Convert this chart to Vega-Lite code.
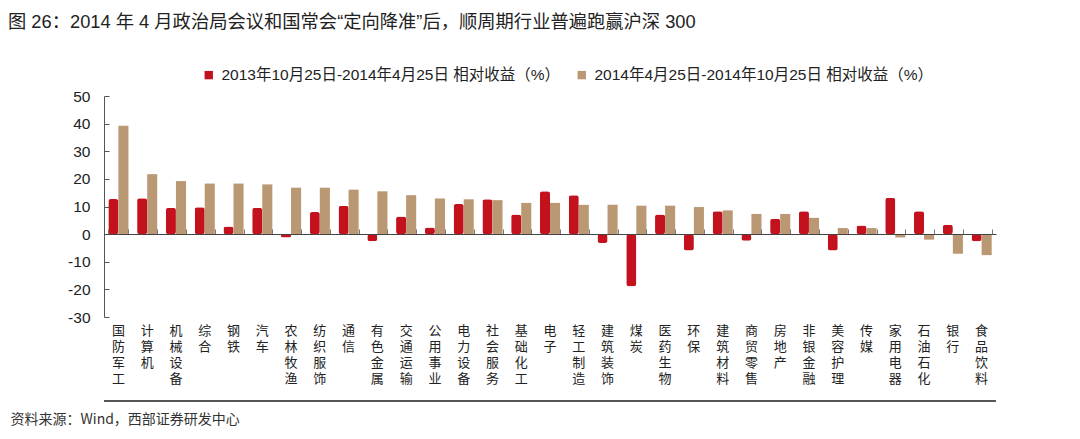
{
  "$schema": "https://vega.github.io/schema/vega-lite/v6.json",
  "autosize": "none",
  "width": 892,
  "height": 221,
  "padding": {"left": 104, "top": 96, "right": 84, "bottom": 122},
  "background": "white",
  "title": {
    "text": "图 26：2014 年 4 月政治局会议和国常会“定向降准”后，顺周期行业普遍跑赢沪深 300",
    "anchor": "start",
    "frame": "group",
    "dx": -96,
    "offset": 35,
    "fontSize": 18.3,
    "fontWeight": "normal",
    "font": "Liberation Sans, Noto Sans CJK SC",
    "color": "#222222"
  },
  "config": {
    "view": {"stroke": null},
    "axis": {"grid": false},
    "axisY": {
      "values": [-30, -20, -10, 0, 10, 20, 30, 40, 50],
      "labelExpr": "toString(datum.value)",
      "labelOverlap": false,
      "title": null,
      "domainColor": "#555555", "tickColor": "#555555",
      "tickSize": -5, "labelPadding": 19,
      "labelFont": "Liberation Sans", "labelFontSize": 15.5, "labelColor": "#222222"
    }
  },
  "data": {
    "values": [
      {"industry": "国防军工", "r1": 12.7, "r2": 39.2},
      {"industry": "计算机", "r1": 13.0, "r2": 21.7},
      {"industry": "机械设备", "r1": 9.5, "r2": 19.2},
      {"industry": "综合", "r1": 9.7, "r2": 18.3},
      {"industry": "钢铁", "r1": 2.8, "r2": 18.3},
      {"industry": "汽车", "r1": 9.5, "r2": 18.0},
      {"industry": "农林牧渔", "r1": -1.2, "r2": 16.8},
      {"industry": "纺织服饰", "r1": 8.0, "r2": 16.8},
      {"industry": "通信", "r1": 10.3, "r2": 16.1},
      {"industry": "有色金属", "r1": -2.6, "r2": 15.5},
      {"industry": "交通运输", "r1": 6.4, "r2": 14.1},
      {"industry": "公用事业", "r1": 2.4, "r2": 12.9},
      {"industry": "电力设备", "r1": 10.9, "r2": 12.6},
      {"industry": "社会服务", "r1": 12.6, "r2": 12.3},
      {"industry": "基础化工", "r1": 7.1, "r2": 11.3},
      {"industry": "电子", "r1": 15.5, "r2": 11.3},
      {"industry": "轻工制造", "r1": 14.1, "r2": 10.6},
      {"industry": "建筑装饰", "r1": -3.2, "r2": 10.6},
      {"industry": "煤炭", "r1": -18.9, "r2": 10.3},
      {"industry": "医药生物", "r1": 7.1, "r2": 10.3},
      {"industry": "环保", "r1": -5.9, "r2": 9.8},
      {"industry": "建筑材料", "r1": 8.3, "r2": 8.6},
      {"industry": "商贸零售", "r1": -2.4, "r2": 7.3},
      {"industry": "房地产", "r1": 5.6, "r2": 7.3},
      {"industry": "非银金融", "r1": 8.3, "r2": 5.9},
      {"industry": "美容护理", "r1": -5.9, "r2": 2.2},
      {"industry": "传媒", "r1": 3.1, "r2": 2.2},
      {"industry": "家用电器", "r1": 13.1, "r2": -1.2},
      {"industry": "石油石化", "r1": 8.3, "r2": -2.0},
      {"industry": "银行", "r1": 3.4, "r2": -7.1},
      {"industry": "食品饮料", "r1": -2.6, "r2": -7.6}
    ]
  },
  "transform": [{"fold": ["r1", "r2"], "as": ["series", "value"]}],
  "resolve": {"axis": {"x": "independent"}},
  "layer": [
    {
      "transform": [{"filter": "datum.series == 'r2'"}],
      "mark": {"type": "bar"},
      "encoding": {
        "x": {
          "field": "industry", "type": "nominal", "sort": null,
          "scale": {"paddingInner": 0.3, "paddingOuter": 0.15},
          "axis": {
            "orient": "bottom",
            "domain": false, "ticks": false,
            "labelAngle": 0, "labelAlign": "center", "labelBaseline": "top",
            "labelPadding": 7, "labelOverlap": false,
            "labelExpr": "split(datum.label, '')",
            "labelLineHeight": 16,
            "labelFont": "Noto Sans CJK SC", "labelFontSize": 13, "labelColor": "#222222",
            "title": "资料来源：Wind，西部证券研发中心",
            "titleX": -94, "titleY": 102, "titleAlign": "left", "titleAnchor": "start",
            "titleBaseline": "middle",
            "titleFont": "Noto Sans CJK SC", "titleFontSize": 14, "titleFontWeight": "normal",
            "titleColor": "#333333"
          }
        },
        "xOffset": {"field": "series", "type": "nominal", "scale": {"domain": ["r1", "r2"]}},
        "y": {
          "field": "value", "type": "quantitative",
          "scale": {"domain": [-30, 50], "nice": false, "zero": false}
        },
        "color": {
          "field": "series", "type": "nominal",
          "scale": {"domain": ["r1", "r2"], "range": ["#C3111E", "#B99873"]},
          "legend": {
            "orient": "none", "legendX": 97, "legendY": -29, "direction": "horizontal",
            "title": null, "padding": 0,
            "symbolType": "square", "symbolSize": 70, "symbolStrokeWidth": 0,
            "labelFont": "Liberation Sans, Noto Sans CJK SC", "labelFontSize": 15.5,
            "labelColor": "#222222", "labelOffset": 5, "labelLimit": 600, "columnPadding": 13,
            "labelExpr": "datum.value == 'r1' ? '2013年10月25日-2014年4月25日 相对收益（%）' : '2014年4月25日-2014年10月25日 相对收益（%）'"
          }
        }
      }
    },
    {
      "transform": [{"filter": "datum.series == 'r1'"}],
      "mark": {"type": "bar", "cornerRadius": 2.5},
      "encoding": {
        "x": {"field": "industry", "type": "nominal", "sort": null, "axis": null},
        "xOffset": {"field": "series", "type": "nominal", "scale": {"domain": ["r1", "r2"]}},
        "y": {"field": "value", "type": "quantitative"},
        "color": {"field": "series", "type": "nominal"}
      }
    },
    {
      "mark": {"type": "point", "opacity": 0},
      "encoding": {
        "x": {
          "field": "industry", "type": "nominal", "sort": null,
          "axis": {
            "orient": "top", "offset": -138, "labels": false, "title": null,
            "domain": true, "domainColor": "#444444", "domainWidth": 1,
            "ticks": true, "tickBand": "extent", "tickSize": 5, "tickColor": "#777777",
            "zindex": 1
          }
        }
      }
    },
    {
      "mark": {"type": "rule", "color": "#555555", "strokeWidth": 1.5, "clip": false},
      "encoding": {"y": {"datum": -60.3}}
    }
  ]
}
